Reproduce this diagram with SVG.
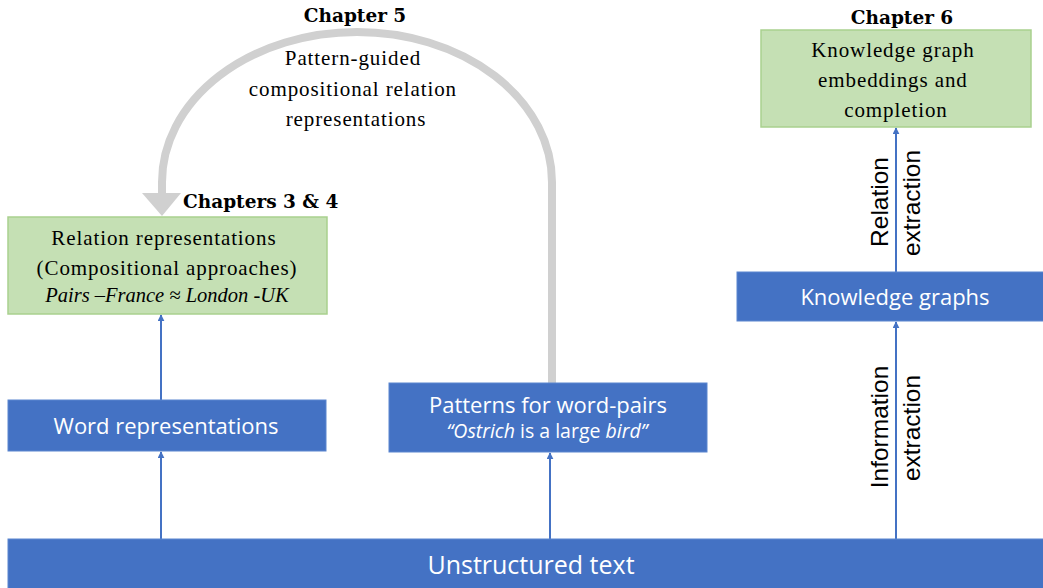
<svg xmlns="http://www.w3.org/2000/svg" width="1043" height="588" viewBox="0 0 1043 588">
  <style>
    .blue { fill: #4472C4; stroke: #5B86CF; stroke-width: 1; }
    .green { fill: #C5E0B4; stroke: #A9D18E; stroke-width: 1.5; }
    .wlabel { font-family: "Open Sans", "Liberation Sans", sans-serif; fill: #ffffff; text-anchor: middle; }
    .serif { font-family: "Liberation Serif", "DejaVu Serif", serif; fill: #000000; text-anchor: middle; font-size: 21px; letter-spacing: 0.9px; }
    .example { font-style: italic; font-size: 20.5px; letter-spacing: 0; }
    .chap { font-family: "DejaVu Serif", "Liberation Serif", serif; font-weight: bold; fill: #000000; }
    .vlabel { font-family: "Liberation Sans", Arial, sans-serif; font-size: 24.5px; fill: #000000; text-anchor: middle; }
    .link { stroke: #4472C4; stroke-width: 2; fill: none; marker-end: url(#head); }
  </style>
  <defs>
    <marker id="head" viewBox="0 0 10 10" refX="9" refY="5" markerWidth="7" markerHeight="7" markerUnits="userSpaceOnUse" orient="auto">
      <path d="M0,0 L10,5 L0,10 Z" fill="#4472C4"/>
    </marker>
  </defs>

  <rect width="1043" height="588" fill="#ffffff"/>

  <g id="connectors">
    <!-- pattern-guided loop -->
    <path d="M552,383 L552,182 A195,150 0 0 0 162,182 L162,196" stroke="#D0D0D0" stroke-width="8" fill="none"/>
    <polygon points="142,193 181,193 162,216" fill="#D0D0D0"/>
    <!-- upward flows -->
    <line class="link" x1="161" y1="539" x2="161" y2="452"/>
    <line class="link" x1="161" y1="400" x2="161" y2="315"/>
    <line class="link" x1="550" y1="539" x2="550" y2="453"/>
    <line class="link" x1="896" y1="539" x2="896" y2="322"/>
    <line class="link" x1="896" y1="272" x2="896" y2="128"/>
    <text class="vlabel" transform="translate(888,427) rotate(-90)">Information</text>
    <text class="vlabel" transform="translate(920,428) rotate(-90)">extraction</text>
    <text class="vlabel" transform="translate(888,202) rotate(-90)">Relation</text>
    <text class="vlabel" transform="translate(920,203) rotate(-90)">extraction</text>
    <text class="chap" x="355" y="22" font-size="18.5" text-anchor="middle">Chapter 5</text>
    <text class="serif">
      <tspan x="356" y="65">Pattern-guided</tspan>
      <tspan x="356" y="96">compositional relation</tspan>
      <tspan x="356" y="126">representations</tspan>
    </text>
  </g>

  <g id="unstructured-text">
    <rect class="blue" x="8" y="539" width="1040" height="55"/>
    <text class="wlabel" x="531" y="574" font-size="25">Unstructured text</text>
  </g>

  <g id="word-representations">
    <rect class="blue" x="8" y="400" width="318" height="51"/>
    <text class="wlabel" x="166" y="434" font-size="22">Word representations</text>
  </g>

  <g id="patterns">
    <rect class="blue" x="389" y="383" width="318" height="69"/>
    <text class="wlabel" x="548" y="413" font-size="22">Patterns for word-pairs</text>
    <text class="wlabel" x="547" y="438" font-size="19.5"><tspan font-style="italic">“Ostrich</tspan> is a large <tspan font-style="italic">bird”</tspan></text>
  </g>

  <g id="relation-representations">
    <rect class="green" x="8" y="217" width="319" height="97"/>
    <text class="chap" x="183" y="208" font-size="18.5">Chapters 3 &amp; 4</text>
    <text class="serif">
      <tspan x="167" y="245">Relation representations</tspan>
      <tspan x="167" y="275">(Compositional approaches)</tspan>
    </text>
    <text class="serif example" x="167" y="302">Pairs –France ≈ London -UK</text>
  </g>

  <g id="knowledge-graphs">
    <rect class="blue" x="737" y="272" width="310" height="49"/>
    <text class="wlabel" x="895" y="305" font-size="22">Knowledge graphs</text>
  </g>

  <g id="kg-embeddings">
    <rect class="green" x="761" y="30" width="270" height="97"/>
    <text class="chap" x="902" y="24" font-size="18.5" text-anchor="middle">Chapter 6</text>
    <text class="serif">
      <tspan x="896" y="57">Knowledge graph</tspan>
      <tspan x="896" y="87">embeddings and</tspan>
      <tspan x="896" y="117">completion</tspan>
    </text>
  </g>
</svg>
